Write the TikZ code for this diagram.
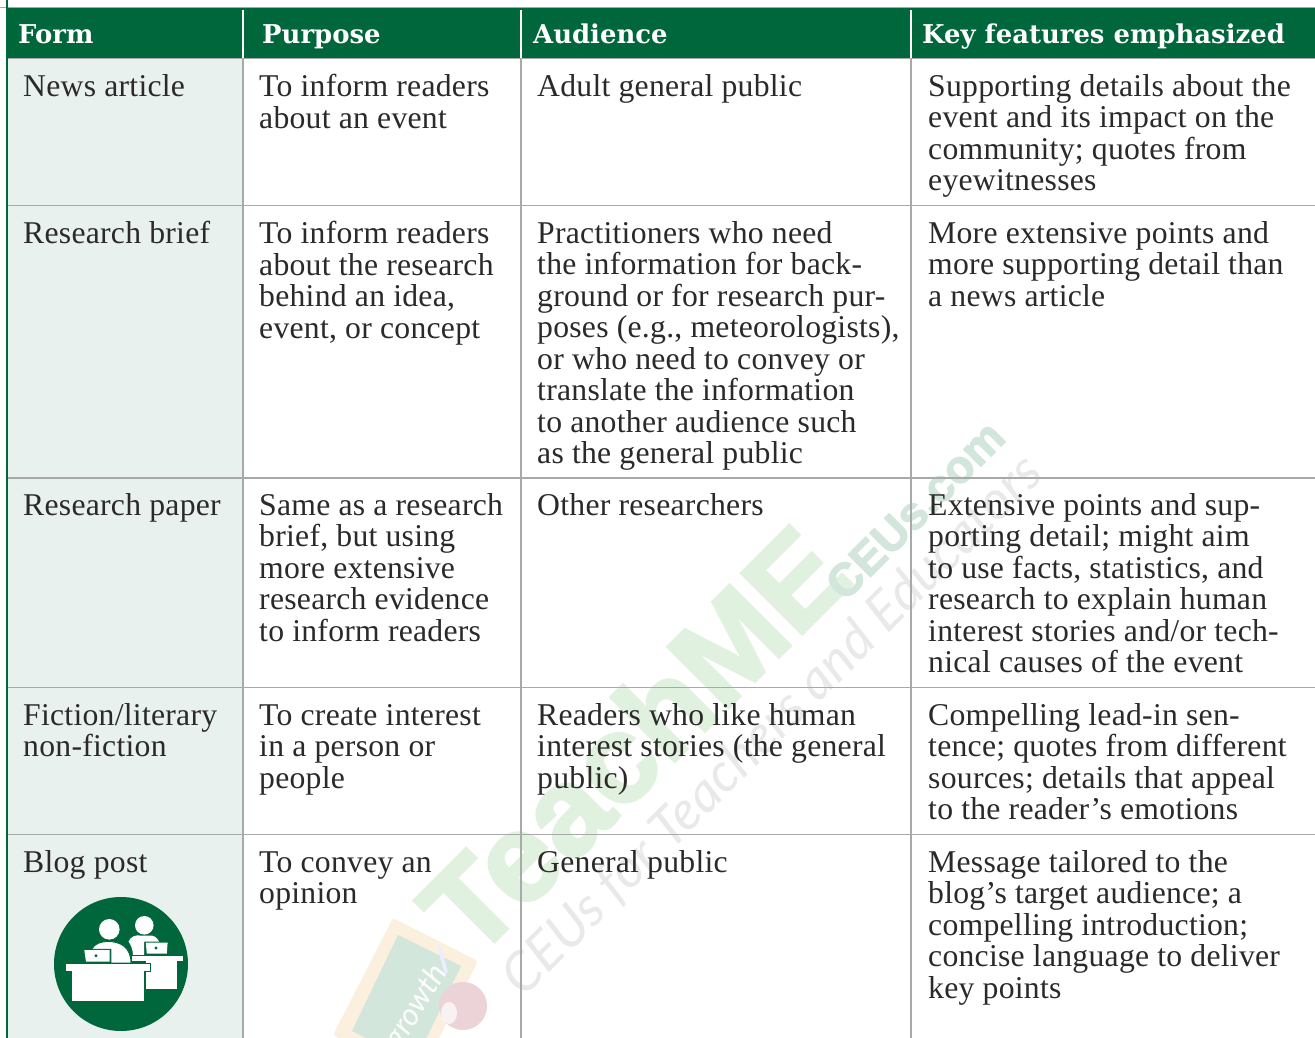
\documentclass[tikz,border=0pt]{standalone}
\usepackage{fontspec}
\setmainfont{Liberation Serif}[LetterSpace=0.8]
\newfontfamily\headfont{DejaVu Serif}[BoldFont={DejaVu Serif Bold}]
\newfontfamily\wmbold{Liberation Sans}[BoldFeatures={FakeBold=2.5}]
\newfontfamily\wmlight{Lato}
\definecolor{hdgreen}{HTML}{00663C}
\definecolor{colfill}{HTML}{E9F1EE}
\definecolor{inkc}{HTML}{2B2A29}
\definecolor{gridc}{HTML}{A8AAAA}
\definecolor{wmgreen}{HTML}{E1F1DF}
\definecolor{wmteal}{HTML}{D3E6DC}
\definecolor{wmgray}{HTML}{E9E9E9}
\definecolor{woodc}{HTML}{FBF0DE}
\definecolor{applec}{HTML}{EBD3D8}
\tikzset{
  cellt/.style={anchor=north west,inner sep=0pt,align=left,text=inkc,font=\fontsize{31.7}{31.5}\selectfont},
  headt/.style={anchor=base west,inner sep=0pt,text=white,font=\fontsize{25.9}{30}\headfont\bfseries},
  gridl/.style={draw=gridc,line width=1.3pt},
  sepl/.style={draw=white,line width=2pt},
  icon/.style={fill=white,draw=hdgreen,line width=0.9pt},
  iconb/.style={fill=white,draw=none},
}
\newcommand{\fstl}{\rule{0pt}{22pt}}
\begin{document}
\begin{tikzpicture}[x=1pt,y=-1pt]
\useasboundingbox (0,0) rectangle (1315,1038);
\clip (0,0) rectangle (1315,1038);
\fill[white] (0,0) rectangle (1315,1038);
% column fill
\fill[colfill] (7,58) rectangle (243,1038);
% watermark
\node[rotate=45,text=wmgreen,inner sep=0pt,font=\fontsize{125}{125}\wmbold\bfseries] (wmteach) at (633,740) {TeachME};
\node[rotate=45,text=wmteal,inner sep=0pt,font=\fontsize{46}{46}\wmbold\bfseries] (wmceus) at (915,510) {CEUs.com};
\node[rotate=45,text=wmgray,inner sep=0pt,font=\fontsize{54}{54}\wmlight\itshape] (wmline) at (773,726) {CEUs for Teachers and Educators};
% slate
\fill[woodc,rounded corners=3pt] (393,918) -- (478,961) -- (419,1078) -- (333,1035) -- cycle;
\fill[wmteal] (398,935) -- (461,966) -- (415,1062) -- (352,1031) -- cycle;
\draw[white!93!blue,line width=3.5pt,line cap=round] (439,947) -- (446,972);
\node[rotate=58,text=white!93!wmteal,inner sep=0pt,anchor=east,font=\fontsize{31}{31}\wmlight\itshape] (slate) at (441,968) {growth};
\fill[applec] (463,1006) ellipse (24 and 24);
\fill[white!70!applec] (449,1013) ellipse (8 and 11);
% grid
\draw[gridl] (0,7.5) -- (1315,7.5);
\fill[hdgreen] (7,8) rectangle (1315,58);
\draw[gridl] (7,58.5) -- (1315,58.5);
\foreach \yy in {205.5,478,687.5,834.5} \draw[gridl] (7,\yy) -- (1315,\yy);
\foreach \xx in {243,521,911} {
  \draw[gridl] (\xx,58) -- (\xx,1038);
  \draw[sepl] (\xx,10) -- (\xx,58);
}
\draw[hdgreen,line width=2pt] (7,0) -- (7,1038);
% header
\node[headt] (h1) at (18,44) {Form};
\node[headt] (h2) at (262,44) {Purpose};
\node[headt] (h3) at (533,44) {Audience};
\node[headt] (h4) at (922,44) {Key features emphasized};
% row 1
\node[cellt] (a1) at (23,74) {\fstl News article};
\node[cellt] (b1) at (259,74) {\fstl To inform readers\\about an event};
\node[cellt] (c1) at (537,74) {\fstl Adult general public};
\node[cellt] (d1) at (928,74) {\fstl Supporting details about the\\event and its impact on the\\community; quotes from\\eyewitnesses};
% row 2
\node[cellt] (a2) at (23,221) {\fstl Research brief};
\node[cellt] (b2) at (259,221) {\fstl To inform readers\\about the research\\behind an idea,\\event, or concept};
\node[cellt] (c2) at (537,221) {\fstl Practitioners who need\\the information for back-\\ground or for research pur-\\poses (e.g., meteorologists),\\or who need to convey or\\translate the information\\to another audience such\\as the general public};
\node[cellt] (d2) at (928,221) {\fstl More extensive points and\\more supporting detail than\\a news article};
% row 3
\node[cellt] (a3) at (23,493) {\fstl Research paper};
\node[cellt] (b3) at (259,493) {\fstl Same as a research\\brief, but using\\more extensive\\research evidence\\to inform readers};
\node[cellt] (c3) at (537,493) {\fstl Other researchers};
\node[cellt] (d3) at (928,493) {\fstl Extensive points and sup-\\porting detail; might aim\\to use facts, statistics, and\\research to explain human\\interest stories and/or tech-\\nical causes of the event};
% row 4
\node[cellt] (a4) at (23,703) {\fstl Fiction/literary\\non-fiction};
\node[cellt] (b4) at (259,703) {\fstl To create interest\\in a person or\\people};
\node[cellt] (c4) at (537,703) {\fstl Readers who like human\\interest stories (the general\\public)};
\node[cellt] (d4) at (928,703) {\fstl Compelling lead-in sen-\\tence; quotes from different\\sources; details that appeal\\to the reader’s emotions};
% row 5
\node[cellt] (a5) at (23,850) {\fstl Blog post};
\node[cellt] (b5) at (259,850) {\fstl To convey an\\opinion};
\node[cellt] (c5) at (537,850) {\fstl General public};
\node[cellt] (d5) at (928,850) {\fstl Message tailored to the\\blog’s target audience; a\\compelling introduction;\\concise language to deliver\\key points};
% icon
\fill[hdgreen] (121,964) circle (67);
% back person and desk
\fill[iconb] (144.3,925.3) circle (9.3);
\fill[iconb] (128.5,941.5) .. controls (131,936) and (136,935) .. (140,935.5) -- (149,935.5) .. controls (153,935) and (157,937) .. (159,941.5) -- (144,941.5) -- (144,955) -- (133,955) .. controls (133,950) and (131,945) .. (128.5,941.5) -- cycle;
\fill[iconb] (145.8,942.7) -- (167.6,942.7) -- (166.8,953.5) -- (146.8,953.5) -- cycle;
\fill[hdgreen] (156,948) circle (1.7);
\draw[icon] (131.7,955.7) rectangle (183.3,961.7);
\draw[icon] (145,961.2) rectangle (177.7,989.3);
\fill[white] (145.5,959) rectangle (177.2,963);
% front person and desk
\fill[iconb] (109.3,929.3) circle (10.3);
\draw[icon] (91.5,949.2) .. controls (95,943.5) and (101,941.5) .. (108,941.5) .. controls (120,941.5) and (131,947) .. (131,963) -- (110.8,963) -- (110.8,949.2) -- cycle;
\fill[iconb] (84.3,950) -- (109.6,950) -- (109.6,961.7) -- (86,961.7) -- cycle;
\fill[hdgreen] (96,955.7) circle (1.7);
\draw[icon] (65.7,963.3) rectangle (150.7,971.7);
\draw[icon] (71.7,971.2) rectangle (144,1001.7);
\fill[white] (72.2,969) rectangle (143.5,973);
\end{tikzpicture}
\end{document}
